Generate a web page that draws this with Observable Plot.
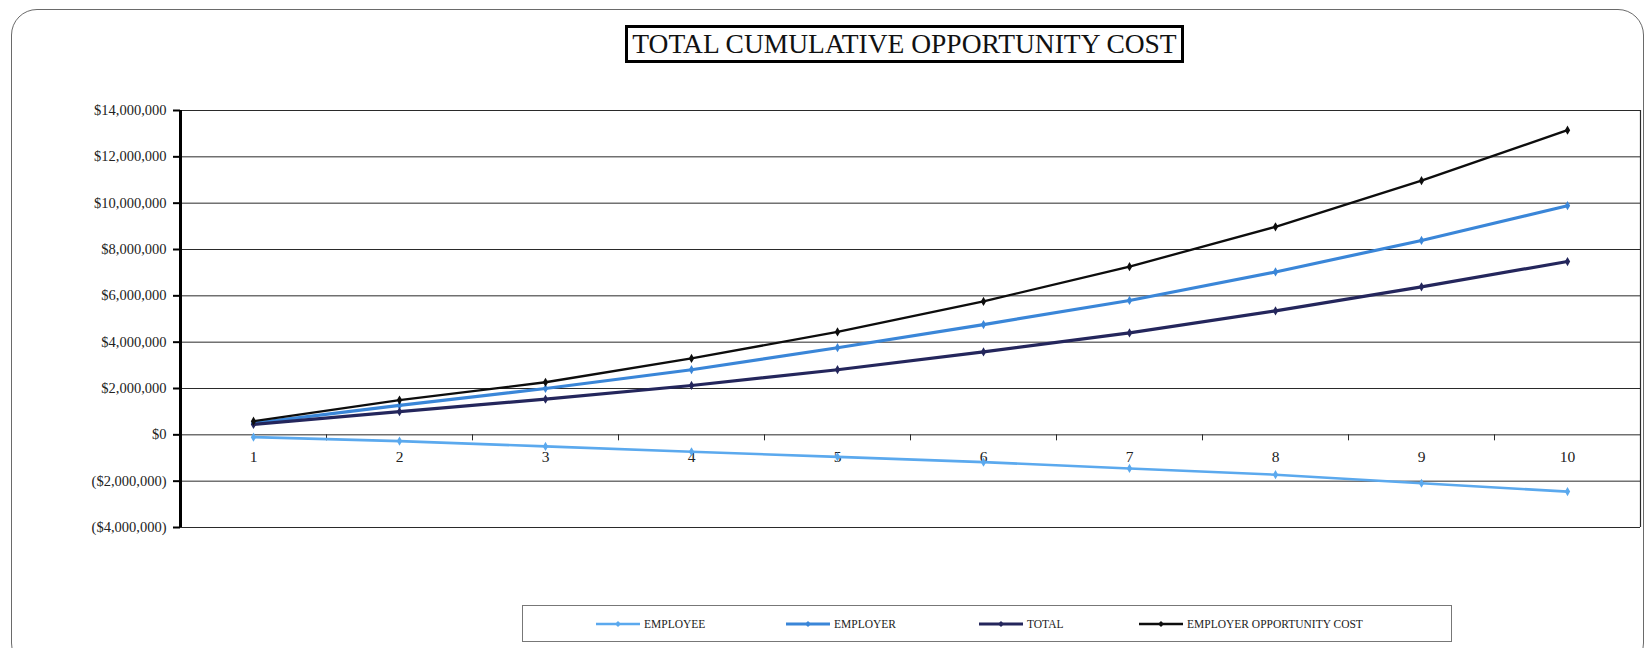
<!DOCTYPE html>
<html>
<head>
<meta charset="utf-8">
<script src="https://cdn.jsdelivr.net/npm/d3@7"></script>
<script src="https://cdn.jsdelivr.net/npm/@observablehq/plot@0.6"></script>
<style>
  html, body { margin: 0; padding: 0; background: #fff; }
  #wrap { position: relative; width: 1646px; height: 648px; overflow: hidden; font-family: "Liberation Serif", "DejaVu Serif", serif; color: #111; }
  #frame { position: absolute; left: 11px; top: 9px; width: 1633px; height: 660px; border: 1.5px solid #6a6a6a; border-radius: 26px; box-sizing: border-box; }
  #chart { position: absolute; left: 0; top: 0; }
  #title { position: absolute; left: 625px; top: 25px; width: 559px; height: 38px; border: 3px solid #000; box-sizing: border-box; font-size: 27.5px; line-height: 32px; text-align: center; white-space: nowrap; background: #fff; }
  #legend { position: absolute; left: 522px; top: 605px; width: 930px; height: 37px; border: 1px solid #777; box-sizing: border-box; background: #fff; }
  .item { position: absolute; top: 0; height: 35px; display: flex; align-items: center; font-size: 11.5px; white-space: nowrap; color: #222; }
  .item svg { margin-right: 3px; }
</style>
</head>
<body>
<div id="wrap">
  <div id="frame"></div>
  <div id="chart"></div>
  <div id="title">TOTAL CUMULATIVE OPPORTUNITY COST</div>
  <div id="legend"></div>
</div>
<script>
// ---- data (values in dollars) ----
const years = [1, 2, 3, 4, 5, 6, 7, 8, 9, 10];
const employee = [-100000, -270000, -500000, -730000, -950000, -1180000, -1450000, -1720000, -2090000, -2450000];
const employer = [500000, 1270000, 2000000, 2810000, 3760000, 4760000, 5800000, 7030000, 8390000, 9890000];
const total = [450000, 1000000, 1540000, 2130000, 2810000, 3580000, 4400000, 5350000, 6390000, 7480000];
const employerOpportunityCost = [590000, 1500000, 2270000, 3300000, 4440000, 5760000, 7260000, 8980000, 10970000, 13150000];

const yTicks = [-4000000, -2000000, 0, 2000000, 4000000, 6000000, 8000000, 10000000, 12000000, 14000000];
const categoryBounds = [0.5, 1.5, 2.5, 3.5, 4.5, 5.5, 6.5, 7.5, 8.5, 9.5, 10.5];

const seriesNames = ["EMPLOYEE", "EMPLOYER", "TOTAL", "EMPLOYER OPPORTUNITY COST"];
const seriesValues = [employee, employer, total, employerOpportunityCost];
const seriesColors = ["#5ba9ee", "#3a86d8", "#24265c", "#0d0d0d"];
const seriesWidths = [2.6, 3.2, 3.2, 2.3];

const money = d3.format(",");
const fmt = d => d < 0 ? `($${money(-d)})` : `$${money(d)}`;

const rows = seriesNames.map((name, s) => years.map((yr, i) => ({series: name, year: yr, value: seriesValues[s][i]})));

const marks = [
  Plot.ruleY(yTicks, {stroke: "#2a2a2a", strokeWidth: 1}),
  Plot.ruleX([10.5], {stroke: "#2a2a2a", strokeWidth: 1.2}),
  Plot.ruleX(categoryBounds, {x: d => d, y1: 0, y2: 0, insetBottom: -6, stroke: "#2a2a2a", strokeWidth: 1}),
  Plot.text(years, {x: d => d, y: 0, dy: 22, text: d => String(d), fontSize: 15.5, fill: "#222"}),
  Plot.axisY(yTicks, {label: null, tickSize: 7, tickPadding: 7, tickFormat: fmt, fontSize: 14.5, stroke: "#000", strokeWidth: 2, fill: "#222"}),
  Plot.ruleX([0.5], {stroke: "#000", strokeWidth: 3})
];
rows.forEach((data, s) => {
  marks.push(Plot.line(data, {x: "year", y: "value", stroke: seriesColors[s], strokeWidth: seriesWidths[s]}));
  marks.push(Plot.dot(data, {x: "year", y: "value", fill: seriesColors[s], r: 2.8, symbol: "diamond"}));
});

const chart = Plot.plot({
  width: 1646,
  height: 560,
  marginLeft: 180,
  marginRight: 6,
  marginTop: 110,
  marginBottom: 33,
  style: {fontFamily: "'Liberation Serif', serif", background: "transparent", color: "#222"},
  x: {type: "linear", domain: [0.5, 10.5], axis: null},
  y: {domain: [-4000000, 14000000], axis: null},
  marks
});
document.getElementById("chart").appendChild(chart);

// ---- legend ----
const legendPos = [72, 262, 455, 615];
const legend = document.getElementById("legend");
seriesNames.forEach((name, s) => {
  const div = document.createElement("div");
  div.className = "item";
  div.style.left = legendPos[s] + "px";
  const ns = "http://www.w3.org/2000/svg";
  const svg = document.createElementNS(ns, "svg");
  svg.setAttribute("width", 46); svg.setAttribute("height", 10);
  const ln = document.createElementNS(ns, "line");
  ln.setAttribute("x1", 1); ln.setAttribute("x2", 45); ln.setAttribute("y1", 5); ln.setAttribute("y2", 5);
  ln.setAttribute("stroke", seriesColors[s]); ln.setAttribute("stroke-width", seriesWidths[s]);
  const mk = document.createElementNS(ns, "path");
  mk.setAttribute("d", "M23,2L26,5L23,8L20,5Z"); mk.setAttribute("fill", seriesColors[s]);
  svg.appendChild(ln); svg.appendChild(mk);
  div.appendChild(svg);
  div.appendChild(document.createTextNode(name));
  legend.appendChild(div);
});
</script>
</body>
</html>
